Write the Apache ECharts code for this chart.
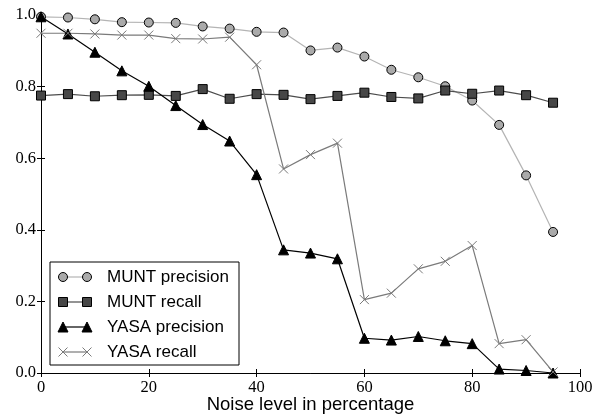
<!DOCTYPE html>
<html>
<head>
<meta charset="utf-8">
<script src="https://cdn.jsdelivr.net/npm/echarts@6/dist/echarts.min.js"></script>
<style>
  html, body { margin: 0; padding: 0; background: #fff; }
  #chart { width: 594px; height: 414px; }
</style>
</head>
<body>
<div id="chart"></div>
<script>
// noise levels (x)
const noise = [0, 5, 10, 15, 20, 25, 30, 35, 40, 45, 50, 55, 60, 65, 70, 75, 80, 85, 90, 95]
// values
const muntPrecision = [0.995, 0.993, 0.988, 0.980, 0.979, 0.978, 0.968, 0.962, 0.953, 0.951,
  0.901, 0.909, 0.884, 0.847, 0.826, 0.801, 0.761, 0.693, 0.552, 0.394]
const muntRecall = [0.775, 0.779, 0.773, 0.776, 0.777, 0.774, 0.793, 0.766, 0.779, 0.777,
  0.765, 0.774, 0.783, 0.771, 0.767, 0.789, 0.780, 0.789, 0.776, 0.755]
const yasaPrecision = [0.995, 0.947, 0.896, 0.844, 0.801, 0.747, 0.694, 0.648, 0.554, 0.344,
  0.335, 0.319, 0.097, 0.092, 0.102, 0.090, 0.082, 0.011, 0.007, 0.0]
const yasaRecall = [0.949, 0.949, 0.947, 0.944, 0.944, 0.934, 0.933, 0.938, 0.861, 0.570,
  0.610, 0.642, 0.205, 0.223, 0.291, 0.312, 0.356, 0.082, 0.093, 0.003]
const xTicks = [0, 20, 40, 60, 80, 100]
const yTicks = [0.0, 0.2, 0.4, 0.6, 0.8, 1.0]

const xPath = 'path://M0,0L10,10M10,0L0,10'

// series look
const styles = [
  { name: 'MUNT precision', data: muntPrecision, symbol: 'circle', size: 9, fill: '#aaaaaa', edge: '#000', line: '#b4b4b4' },
  { name: 'MUNT recall', data: muntRecall, symbol: 'rect', size: 9, fill: '#474747', edge: '#000', line: '#4d4d4d' },
  { name: 'YASA precision', data: yasaPrecision, symbol: 'triangle', size: 10, fill: '#000', edge: '#000', line: '#000' },
  { name: 'YASA recall', data: yasaRecall, symbol: xPath, size: 9, fill: 'none', edge: '#7a7a7a', line: '#7a7a7a' }
]

const serif = '"Liberation Serif", "DejaVu Serif", serif'
const sans = '"Liberation Sans", sans-serif'

const tickAxis = {
  axisLine: { lineStyle: { color: '#000', width: 1 } },
  axisTick: { inside: true, length: 4, lineStyle: { color: '#000' } },
  splitLine: { show: false }
}

const series = styles.map(s => ({
  name: s.name,
  type: 'line',
  data: noise.map((x, i) => [x, s.data[i]]),
  symbol: s.symbol,
  symbolSize: s.size,
  showAllSymbol: true,
  clip: false,
  lineStyle: { color: s.line, width: 1.2 },
  itemStyle: { color: s.fill, borderColor: s.edge, borderWidth: 1 },
  emphasis: { disabled: true },
  animation: false
}))

// legend box drawn by hand so the icons look like marker-line-marker
const lg = { left: 50, top: 262, w: 189, h: 103, row: 25 }
const legendGraphic = [{
  type: 'rect',
  shape: { x: lg.left, y: lg.top, width: lg.w, height: lg.h },
  style: { fill: '#fff', stroke: '#000', lineWidth: 1 },
  z: 100
}]
styles.forEach((s, i) => {
  const cy = lg.top + 15 + i * lg.row
  legendGraphic.push({
    type: 'line',
    shape: { x1: 63, y1: cy, x2: 87, y2: cy },
    style: { stroke: s.line, lineWidth: 1.2 },
    z: 101
  })
  ;[63, 87].forEach(cx => {
    let el
    const r = s.size / 2
    if (s.symbol === 'circle') {
      el = { type: 'circle', shape: { cx: cx, cy: cy, r: r } }
    } else if (s.symbol === 'rect') {
      el = { type: 'rect', shape: { x: cx - r, y: cy - r, width: s.size, height: s.size } }
    } else if (s.symbol === 'triangle') {
      el = { type: 'polygon', shape: { points: [[cx, cy - r], [cx - r, cy + r], [cx + r, cy + r]] } }
    } else {
      el = { type: 'polyline', shape: { points: [[cx - r, cy - r], [cx + r, cy + r]] } }
      legendGraphic.push({
        type: 'polyline',
        shape: { points: [[cx + r, cy - r], [cx - r, cy + r]] },
        style: { stroke: s.edge, lineWidth: 1, fill: 'none' },
        z: 102
      })
    }
    el.style = { fill: s.fill, stroke: s.edge, lineWidth: 1 }
    el.z = 102
    legendGraphic.push(el)
  })
  legendGraphic.push({
    type: 'text',
    style: { x: 107, y: cy, text: s.name, font: '17px ' + sans, fill: '#000', textVerticalAlign: 'middle' },
    z: 102
  })
})

const chart = echarts.init(document.getElementById('chart'), null, { renderer: 'canvas' })
chart.setOption({
  animation: false,
  backgroundColor: '#fff',
  grid: { left: 41, right: 14, top: 15, bottom: 41, containLabel: false, outerBoundsMode: 'none' },
  xAxis: [
    Object.assign({
      type: 'value', min: xTicks[0], max: xTicks[xTicks.length - 1], interval: 20,
      name: 'Noise level in percentage', nameLocation: 'middle', nameGap: 22, nameMoveOverlap: false,
      nameTextStyle: { fontFamily: sans, fontSize: 18.5, color: '#000' },
      axisLabel: { fontFamily: serif, fontSize: 16.5, color: '#000', margin: 6 }
    }, tickAxis),
    Object.assign({
      type: 'value', position: 'top', min: xTicks[0], max: xTicks[xTicks.length - 1], interval: 20,
      axisLabel: { show: false }
    }, tickAxis)
  ],
  yAxis: [
    Object.assign({
      type: 'value', min: yTicks[0], max: yTicks[yTicks.length - 1], interval: 0.2,
      axisLabel: { fontFamily: serif, fontSize: 16.5, color: '#000', margin: 5, formatter: v => v.toFixed(1) }
    }, tickAxis),
    Object.assign({
      type: 'value', position: 'right', min: yTicks[0], max: yTicks[yTicks.length - 1], interval: 0.2,
      axisLabel: { show: false }
    }, tickAxis)
  ],
  series: series,
  graphic: legendGraphic
})
</script>
</body>
</html>
